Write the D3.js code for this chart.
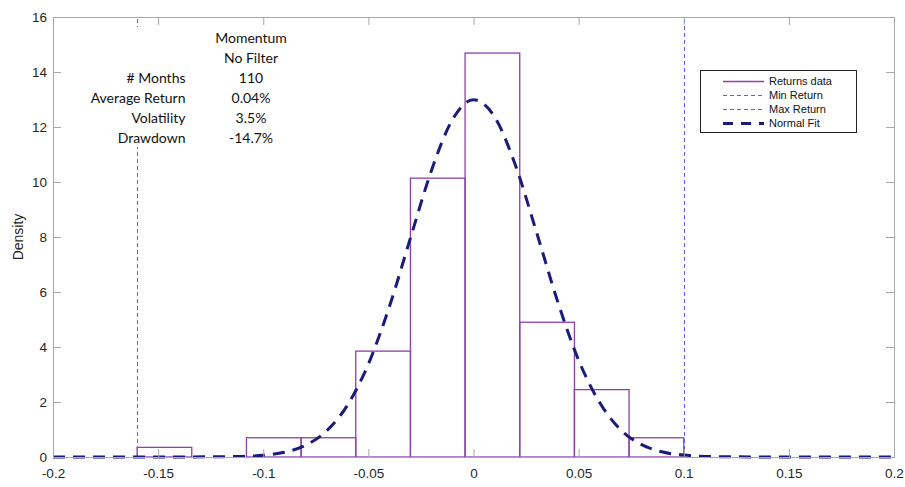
<!doctype html>
<html>
<head>
<script src="https://d3js.org/d3.v7.min.js"></script>
<style>
  body { margin: 0; background: #fff; }
</style>
</head>
<body>
<svg id="chart"></svg>
<script>
// histogram of monthly returns (density), bin edges and heights
const binEdges = [-0.16, -0.134, -0.108, -0.082, -0.056, -0.030, -0.004, 0.022, 0.048, 0.074, 0.100];
const binDensity = [0.35, 0, 0.70, 0.70, 3.85, 10.14, 14.69, 4.90, 2.45, 0.70];

// normal fit curve
const fitX = [-0.2, -0.15, -0.12, -0.11, -0.10, -0.09, -0.08, -0.07, -0.06, -0.05, -0.04, -0.03, -0.02, -0.01, 0.0,
              0.01, 0.02, 0.03, 0.04, 0.05, 0.06, 0.07, 0.08, 0.09, 0.10, 0.11, 0.12, 0.15, 0.2];
const fitY = [0, 0, 0.01, 0.02, 0.06, 0.17, 0.42, 0.94, 1.88, 3.38, 5.47, 7.96, 10.42, 12.27, 12.99,
              12.37, 10.60, 8.17, 5.66, 3.52, 1.98, 0.99, 0.45, 0.18, 0.07, 0.02, 0.01, 0, 0];

const minReturn = -0.16;
const maxReturn = 0.10;

const xTicks = [-0.2, -0.15, -0.1, -0.05, 0, 0.05, 0.1, 0.15, 0.2];
const xTickLabels = ["-0.2", "-0.15", "-0.1", "-0.05", "0", "0.05", "0.1", "0.15", "0.2"];
const yTicks = [0, 2, 4, 6, 8, 10, 12, 14, 16];

const headerLines = ["Momentum", "No Filter"];
const statNames = ["# Months", "Average Return", "Volatility", "Drawdown"];
const statValues = ["110", "0.04%", "3.5%", "-14.7%"];

const legendNames = ["Returns data", "Min Return", "Max Return", "Normal Fit"];

const W = 905, H = 487;
const mLeft = 53, mRight = 894, mTop = 17, mBottom = 457;

const purple = "#8e3fad";
const navy = "#1b1b7a";
const blueDash = "#5c5cff";
const axisGrey = "#a8a8a8";
const labelGrey = "#262626";

const svg = d3.select("#chart").attr("width", W).attr("height", H)
    .style("font-family", "'Liberation Sans', Arial, sans-serif");

const x = d3.scaleLinear().domain([-0.2, 0.2]).range([mLeft, mRight]);
const y = d3.scaleLinear().domain([0, 16]).range([mBottom, mTop]);

// bars
const bins = binDensity.map((d, i) => ({x0: binEdges[i], x1: binEdges[i + 1], v: d}));
svg.append("g").selectAll("rect").data(bins).enter().append("rect")
    .attr("x", d => x(d.x0))
    .attr("y", d => y(d.v))
    .attr("width", d => x(d.x1) - x(d.x0))
    .attr("height", d => y(0) - y(d.v))
    .attr("fill", "none")
    .attr("stroke", purple)
    .attr("stroke-width", 1.3);

// min / max return lines
svg.append("g").selectAll("line").data([minReturn, maxReturn]).enter().append("line")
    .attr("x1", d => Math.round(x(d)) + 0.5).attr("x2", d => Math.round(x(d)) + 0.5)
    .attr("y1", y(0)).attr("y2", y(16))
    .attr("stroke", blueDash)
    .attr("stroke-width", 1)
    .attr("stroke-dasharray", "4,3");

// normal fit
const fitPts = fitX.map((d, i) => [d, fitY[i]]);
svg.append("path")
    .datum(fitPts)
    .attr("fill", "none")
    .attr("stroke", navy)
    .attr("stroke-width", 3)
    .attr("stroke-dasharray", "12,8")
    .attr("d", d3.line().x(d => x(d[0])).y(d => y(d[1])).curve(d3.curveMonotoneX));

// axes, MATLAB style: inward ticks on all four sides
function styleAxis(g) {
    g.attr("font-family", null).attr("font-size", null);
    g.select(".domain").attr("stroke", axisGrey);
    g.selectAll(".tick line").attr("stroke", axisGrey);
    g.selectAll(".tick text").attr("fill", labelGrey).style("font-size", "13.5px");
}
svg.append("g").attr("transform", `translate(0,${mBottom})`)
    .call(d3.axisBottom(x).tickValues(xTicks).tickFormat((d, i) => xTickLabels[i])
        .tickSizeInner(-8).tickSizeOuter(0).tickPadding(11))
    .call(styleAxis);
svg.append("g").attr("transform", `translate(0,${mTop})`)
    .call(d3.axisTop(x).tickValues(xTicks).tickFormat("").tickSizeInner(-8).tickSizeOuter(0))
    .call(styleAxis);
svg.append("g").attr("transform", `translate(${mLeft},0)`)
    .call(d3.axisLeft(y).tickValues(yTicks).tickSizeInner(-8).tickSizeOuter(0).tickPadding(6))
    .call(styleAxis);
svg.append("g").attr("transform", `translate(${mRight},0)`)
    .call(d3.axisRight(y).tickValues(yTicks).tickFormat("").tickSizeInner(-8).tickSizeOuter(0))
    .call(styleAxis);

svg.append("text")
    .attr("transform", "translate(23,237) rotate(-90)")
    .attr("text-anchor", "middle")
    .attr("fill", labelGrey)
    .style("font-size", "14px")
    .text("Density");

// stats text box (white background hides the min line behind it)
const note = svg.append("g").style("font-family", "Lato, 'Open Sans', sans-serif").style("font-size", "14px");
note.append("rect").attr("x", 80).attr("y", 27).attr("width", 215).attr("height", 120).attr("fill", "#fff");
note.selectAll("text.hdr").data(headerLines).enter().append("text")
    .attr("class", "hdr")
    .attr("x", 251).attr("y", (d, i) => 42.7 + i * 20.1)
    .attr("text-anchor", "middle").attr("fill", "#111").text(d => d);
note.selectAll("text.nm").data(statNames).enter().append("text")
    .attr("class", "nm")
    .attr("x", 185.5).attr("y", (d, i) => 83 + i * 20.1)
    .attr("text-anchor", "end").attr("fill", "#111").text(d => d);
note.selectAll("text.val").data(statValues).enter().append("text")
    .attr("class", "val")
    .attr("x", 251).attr("y", (d, i) => 83 + i * 20.1)
    .attr("text-anchor", "middle").attr("fill", "#111").text(d => d);

// legend
const lg = svg.append("g");
lg.append("rect").attr("x", 700.5).attr("y", 70.5).attr("width", 156).attr("height", 62)
    .attr("fill", "#fff").attr("stroke", "#222").attr("stroke-width", 1);
const legendStyles = [
    {stroke: purple, w: 1.3, dash: null},
    {stroke: blueDash, w: 1, dash: "4,3"},
    {stroke: blueDash, w: 1, dash: "4,3"},
    {stroke: navy, w: 3, dash: "10,8"}
];
const rows = lg.selectAll("g.row").data(legendNames).enter().append("g")
    .attr("class", "row")
    .attr("transform", (d, i) => `translate(0,${81.5 + i * 14})`);
rows.append("line")
    .attr("x1", 723).attr("x2", 764).attr("y1", 0).attr("y2", 0)
    .attr("stroke", (d, i) => legendStyles[i].stroke)
    .attr("stroke-width", (d, i) => legendStyles[i].w)
    .attr("stroke-dasharray", (d, i) => legendStyles[i].dash);
rows.append("text")
    .attr("x", 769).attr("y", 0).attr("dy", "0.35em")
    .attr("fill", "#111").style("font-size", "11px")
    .text(d => d);
</script>
</body>
</html>
